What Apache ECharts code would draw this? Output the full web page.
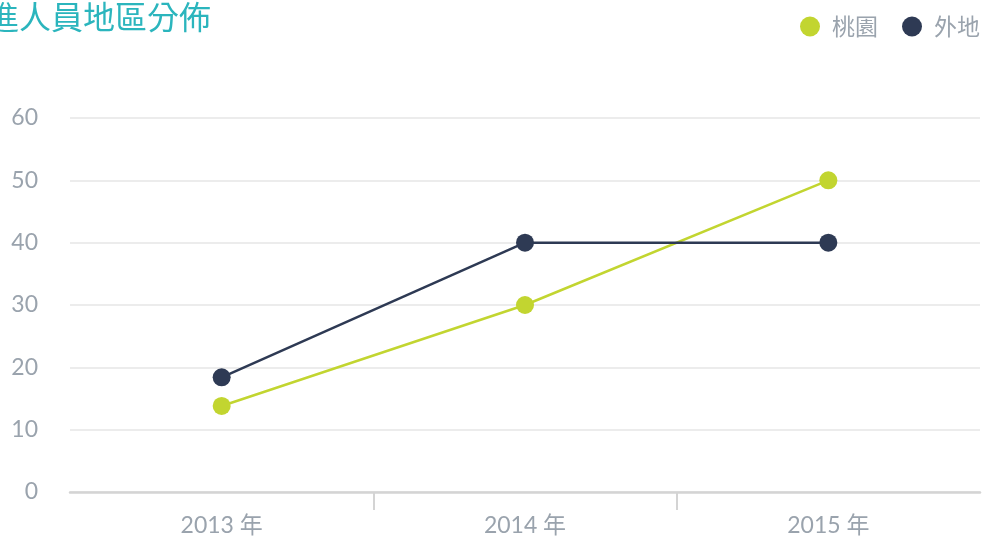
<!DOCTYPE html>
<html>
<head>
<meta charset="utf-8">
<style>
    html, body { margin: 0; padding: 0; background: #fff; }
    #chart { width: 984px; height: 539px; }
</style>
<script src="https://cdn.jsdelivr.net/npm/echarts@6/dist/echarts.min.js"></script>
</head>
<body>
<div id="chart"></div>
<script>
var categories = ['2013 年', '2014 年', '2015 年'];
var seriesNames = ['桃園', '外地'];
var taoyuanData = [13.8, 30, 50];
var otherData = [18.4, 40, 40];
var yTicks = [0, 10, 20, 30, 40, 50, 60];

// boundaries between the years, used only for the small ticks under the axis
var boundaries = ['', '', '', ''];

var chart = echarts.init(document.getElementById('chart'));
var labelFont = 'Lato, "Noto Sans CJK TC", sans-serif';

var option = {
    title: {
        text: '新進人員地區分佈',
        left: -50,
        top: -4,
        textStyle: {
            color: '#2bb5bd',
            fontSize: 32,
            fontWeight: 'normal',
            fontFamily: '"Noto Sans CJK TC", sans-serif'
        }
    },
    legend: {
        data: seriesNames,
        right: -1,
        top: 10,
        icon: 'circle',
        itemWidth: 20,
        itemHeight: 20,
        itemGap: 24,
        textStyle: {
            color: '#9aa3ad',
            fontSize: 23,
            padding: [0, 0, 0, 7],
            fontFamily: '"Noto Sans CJK TC", sans-serif'
        }
    },
    grid: {
        left: 70,
        right: 4,
        top: 118,
        bottom: 47
    },
    xAxis: [
        {
            type: 'category',
            data: categories,
            boundaryGap: true,
            axisLine: {
                lineStyle: { color: '#d4d4d4', width: 2.5 }
            },
            axisTick: { show: false },
            axisLabel: {
                color: '#9aa3ad',
                fontSize: 23,
                margin: 22,
                fontFamily: labelFont
            }
        },
        {
            type: 'category',
            data: boundaries,
            position: 'bottom',
            boundaryGap: false,
            axisLine: { show: false },
            axisLabel: { show: false },
            axisTick: {
                show: true,
                length: 18,
                interval: function (index) {
                    return index > 0 && index < boundaries.length - 1;
                },
                lineStyle: { color: '#d4d4d4', width: 2 }
            }
        }
    ],
    yAxis: {
        type: 'value',
        min: yTicks[0],
        max: yTicks[yTicks.length - 1],
        interval: 10,
        axisLine: { show: false },
        axisTick: { show: false },
        axisLabel: {
            color: '#9aa3ad',
            fontSize: 23,
            margin: 32,
            padding: [0, 0, 8, 0],
            fontFamily: labelFont
        },
        splitLine: {
            lineStyle: { color: '#ececec', width: 2 }
        }
    },
    series: [
        {
            name: seriesNames[0],
            type: 'line',
            data: taoyuanData,
            symbol: 'circle',
            symbolSize: 18,
            itemStyle: { color: '#c2d530' },
            lineStyle: { color: '#c2d530', width: 2.5 }
        },
        {
            name: seriesNames[1],
            type: 'line',
            data: otherData,
            symbol: 'circle',
            symbolSize: 18,
            itemStyle: { color: '#2e3a54' },
            lineStyle: { color: '#2e3a54', width: 2.5 }
        }
    ]
};

chart.setOption(option);
</script>
</body>
</html>
